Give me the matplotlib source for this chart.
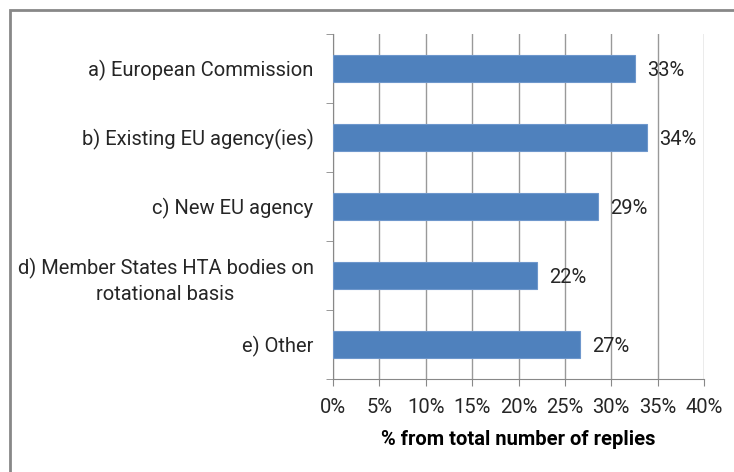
import matplotlib.pyplot as plt
from matplotlib.patches import Rectangle

# data
categories = ['a) European Commission', 'b) Existing EU agency(ies)', 'c) New EU agency',
              'd) Member States HTA bodies on\nrotational basis', 'e) Other']
values = [32.6, 33.9, 28.6, 22.0, 26.6]
labels = ['33%', '34%', '29%', '22%', '27%']
xticks = [0, 5, 10, 15, 20, 25, 30, 35, 40]

plt.rcParams['font.family'] = ['Roboto', 'DejaVu Sans']
fs = 14.5

W, H = 734, 472
fig = plt.figure(figsize=(W / 100, H / 100), dpi=100)
ax = fig.add_axes([333 / W, 1 - 379 / H, (704 - 333) / W, (379 - 34) / H])

# outer frame (only left/top edges are inside the picture)
fig.add_artist(Rectangle((10 / W, -0.1), 1.2, 1.1 - 10 / H, transform=fig.transFigure,
                         fill=False, edgecolor='#888888', linewidth=2, zorder=0))

y = list(range(len(categories)))
ax.barh(y, values, height=0.4, color='#4F81BD', edgecolor='#6E97CC', linewidth=0.8, zorder=3)
for yi, v, lab in zip(y, values, labels):
    ax.text(v + 1.3, yi, lab, va='center_baseline', ha='left', fontsize=fs, color='#262626', zorder=4)

ax.set_ylim(len(categories) - 0.5, -0.5)
ax.set_xlim(0, 40)
ax.set_xticks(xticks)
ax.set_xticklabels([f'{t}%' for t in xticks], fontsize=fs, color='#262626')
ax.set_yticks(y)
ax.set_yticklabels(categories, fontsize=fs, color='#262626', ha='right', multialignment='center',
                   linespacing=1.4)
ax.tick_params(axis='y', length=0, pad=14)
ax.set_yticks([i + 0.5 for i in range(-1, len(categories))], minor=True)
ax.tick_params(axis='y', which='minor', length=5, color='#888888', direction='out')
ax.tick_params(axis='x', length=5, color='#888888', direction='out', pad=9)

ax.grid(axis='x', color='#999999', linewidth=1, zorder=0)
for s in ['top', 'right']:
    ax.spines[s].set_visible(False)
for s in ['left', 'bottom']:
    ax.spines[s].set_color('#888888')

ax.set_xlabel('% from total number of replies', fontsize=fs, fontweight='bold', labelpad=9)

fig.savefig('out.png', dpi=100)
